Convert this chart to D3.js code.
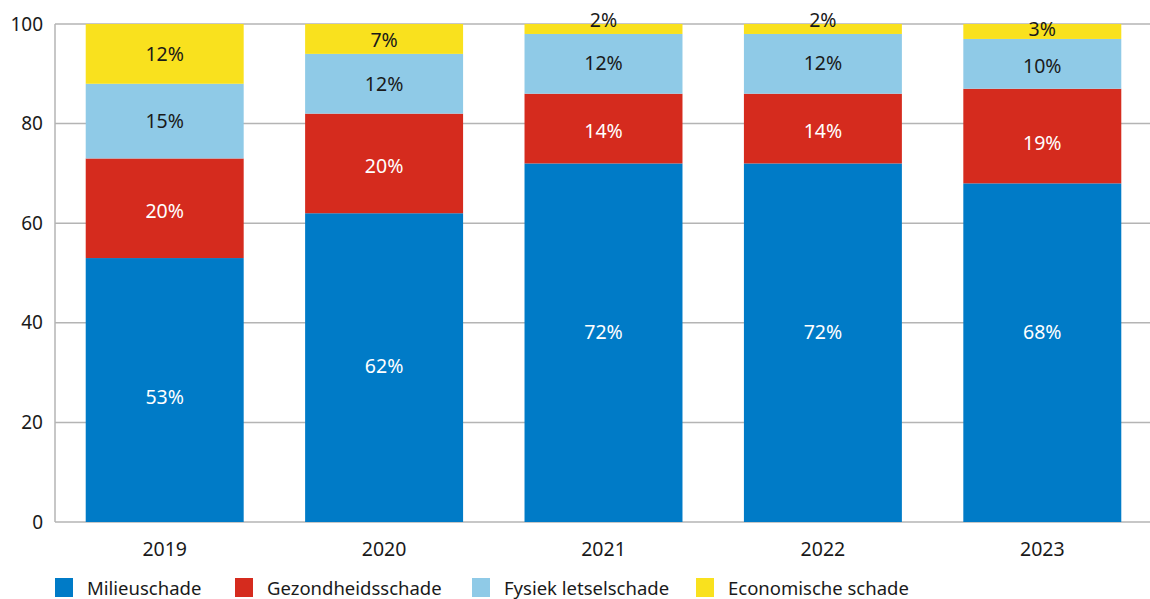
<!DOCTYPE html>
<html><head><meta charset="utf-8">
<script src="https://cdn.jsdelivr.net/npm/d3@7/dist/d3.min.js"></script>
<style>body{margin:0;background:#fff}svg{display:block}text{font-family:"Noto Sans",sans-serif}</style>
</head><body><svg id="c" width="1150" height="599"></svg>
<script>
const years = ["2019","2020","2021","2022","2023"];
const seriesNames = ["Milieuschade","Gezondheidsschade","Fysiek letselschade","Economische schade"];
const milieu = [53,62,72,72,68];
const gezondheid = [20,20,14,14,19];
const fysiek = [15,12,12,12,10];
const economisch = [12,7,2,2,3];
const yTicks = [0,20,40,60,80,100];

// styling / layout (not data)
const colors = ["#007bc7","#d52b1e","#8fcae7","#f9e11e"];
const labelColors = ["#ffffff","#ffffff","#1a1a1a","#1a1a1a"];
// small vertical label nudges (px) per series, per year, as in the original layout
const labelNudge = [[7,-1,-11,-11,-21],[3,3,3,3,7],[0,0,-1,-1,2],[0,1,0,0,-2]];

const svg = d3.select("#c");
const m = {l:55, r:0, t:24, b:77};
const W = 1150, H = 599;
const x = d3.scaleBand().domain(years).range([m.l, W - m.r + 2]).paddingInner(0.28).paddingOuter(0.14);
const y = d3.scaleLinear().domain([0,100]).range([H - m.b, m.t]).clamp(true);

svg.append("g").selectAll("line").data(yTicks).join("line")
  .attr("x1", m.l).attr("x2", W).attr("y1", d=>y(d)).attr("y2", d=>y(d))
  .attr("stroke", "#b4b4b4").attr("stroke-width", 1.5);
svg.append("line").attr("x1", m.l).attr("x2", m.l).attr("y1", y(0)).attr("y2", y(100))
  .attr("stroke", "#b4b4b4").attr("stroke-width", 1.5);

const rows = years.map((yr,i)=>({year:yr, i, v:[milieu[i],gezondheid[i],fysiek[i],economisch[i]]}));
const segs = [];
rows.forEach(r=>{let acc=0; r.v.forEach((v,k)=>{segs.push({year:r.year,i:r.i,k,v,y0:acc,y1:acc+v}); acc+=v;});});

svg.append("g").selectAll("rect").data(segs).join("rect")
  .attr("x", d=>x(d.year)).attr("width", x.bandwidth())
  .attr("y", d=>y(d.y1)).attr("height", d=>y(d.y0)-y(d.y1))
  .attr("fill", d=>colors[d.k]);

svg.append("g").selectAll("text").data(segs).join("text")
  .attr("x", d=>x(d.year)+x.bandwidth()/2)
  .attr("y", d=>{const a=y(d.y0), b=y(d.y1); let c=(a+b)/2; if (a-b<12) c-=9; return c + labelNudge[d.k][d.i];})
  .attr("dy","0.35em").attr("text-anchor","middle").attr("font-size",19.5)
  .attr("fill", d=>labelColors[d.k]).text(d=>d.v+"%");

svg.append("g").selectAll("text").data(yTicks).join("text")
  .attr("x", 43).attr("y", d=>y(d)).attr("dy","0.35em").attr("text-anchor","end")
  .attr("font-size",19).attr("fill","#1a1a1a").text(d=>d);

svg.append("g").selectAll("text").data(years).join("text")
  .attr("x", d=>x(d)+x.bandwidth()/2).attr("y", 549).attr("dy","0.35em").attr("text-anchor","middle")
  .attr("font-size",19.5).attr("fill","#1a1a1a").text(d=>d);

const legX = [55,235,472,696];
const lg = svg.append("g").selectAll("g").data(seriesNames).join("g")
  .attr("transform",(d,i)=>`translate(${legX[i]},578)`);
lg.append("rect").attr("width",18).attr("height",19).attr("fill",(d,i)=>colors[i]);
lg.append("text").attr("x",32).attr("y",16.5).attr("font-size",18.5)
  .attr("fill","#1a1a1a").text(d=>d);
</script></body></html>
